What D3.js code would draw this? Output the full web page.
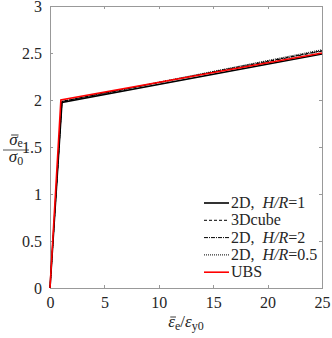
<!DOCTYPE html>
<meta charset="utf-8">
<script src="https://cdn.jsdelivr.net/npm/d3@7"></script>
<style>
  body { margin: 0; background: #fff; }
  .axis path, .axis line { stroke: #999; shape-rendering: crispEdges; }
</style>
<body>
<script>

// strain values (x) and stress values for each series
var xKink = [0, 1.1, 25];
var xUbs = [0, 1, 25];
var s2dHR1 = [0, 1.975, 2.49];
var s3dCube = [0, 1.985, 2.525];
var s2dHR2 = [0, 1.985, 2.52];
var s2dHR05 = [0, 1.985, 2.535];
var sUbs = [0, 2.0, 2.5];

var xTicks = [0, 5, 10, 15, 20, 25];
var yTicks = [0, 0.5, 1, 1.5, 2, 2.5, 3];

var series = [
  {name: "2D, ", it: "H/R", val: "=1", x: xKink, y: s2dHR1, color: "#000", width: 1.6, dash: null},
  {name: "3Dcube", it: "", val: "", x: xKink, y: s3dCube, color: "#000", width: 1, dash: "3,2"},
  {name: "2D, ", it: "H/R", val: "=2", x: xKink, y: s2dHR2, color: "#000", width: 1, dash: "4,1,1,1"},
  {name: "2D, ", it: "H/R", val: "=0.5", x: xKink, y: s2dHR05, color: "#000", width: 1, dash: "1,1"},
  {name: "UBS", it: "", val: "", x: xUbs, y: sUbs, color: "#ff0000", width: 1.6, dash: null}
];

var font = "Liberation Serif";
var ink = "#262626";

var width = 332, height = 338;
var margin = {left: 50, right: 10, top: 6, bottom: 50};
var w = width - margin.left - margin.right,
    h = height - margin.top - margin.bottom;

var svg = d3.select("body").append("svg")
    .attr("width", width)
    .attr("height", height);

var g = svg.append("g")
    .attr("transform", "translate(" + margin.left + "," + margin.top + ")");

var x = d3.scaleLinear().domain([0, 25]).range([0, w]);
var y = d3.scaleLinear().domain([0, 3]).range([h, 0]);

var fmt = d3.format("~g");

// axes, ticks inward (box on)
g.append("g").attr("class", "axis")
    .attr("transform", "translate(0," + h + ")")
    .call(d3.axisBottom(x).tickValues(xTicks).tickFormat(fmt).tickSizeInner(-3).tickSizeOuter(0).tickPadding(9));
g.append("g").attr("class", "axis")
    .call(d3.axisLeft(y).tickValues(yTicks).tickFormat(fmt).tickSizeInner(-3).tickSizeOuter(0).tickPadding(8));
g.append("g").attr("class", "axis")
    .call(d3.axisTop(x).tickValues(xTicks).tickSizeInner(-3).tickSizeOuter(0).tickFormat(""));
g.append("g").attr("class", "axis")
    .attr("transform", "translate(" + w + ",0)")
    .call(d3.axisRight(y).tickValues(yTicks).tickSizeInner(-3).tickSizeOuter(0).tickFormat(""));

g.selectAll(".axis text")
    .style("font-family", font)
    .style("font-size", "16px")
    .style("fill", ink);

var line = d3.line()
    .x(function(d) { return x(d[0]); })
    .y(function(d) { return y(d[1]); });

// draw dashed ones first, then solid black and red on top
var order = [1, 2, 3, 0, 4];
order.forEach(function(i) {
  var s = series[i];
  g.append("path")
      .datum(d3.zip(s.x, s.y))
      .attr("d", line)
      .attr("fill", "none")
      .attr("stroke", s.color)
      .attr("stroke-width", s.width)
      .attr("stroke-dasharray", s.dash);
});

// legend
var legend = g.append("g").attr("transform", "translate(154,197)");
series.forEach(function(s, i) {
  var row = legend.append("g").attr("transform", "translate(0," + (i * 17.3) + ")");
  row.append("line")
      .attr("x1", 0).attr("x2", 25)
      .attr("stroke", s.color)
      .attr("stroke-width", s.width)
      .attr("stroke-dasharray", s.dash);
  var t = row.append("text").attr("x", 27).attr("y", 5)
      .style("font-family", font).style("font-size", "16px").style("fill", ink);
  t.append("tspan").text(s.name);
  if (s.it) {
    t.append("tspan").attr("dx", 4).style("font-style", "italic").text(s.it);
    t.append("tspan").text(s.val);
  }
});

// write a math label: parts are [text, italic, sub, bar]
function mathLabel(sel, parts, subDy) {
  var t = sel.append("text")
      .style("font-family", font).style("font-size", "17px").style("fill", ink);
  var spans = [];
  parts.forEach(function(p) {
    var sp = t.append("tspan").text(p[0]);
    if (p[1]) sp.style("font-style", "italic");
    if (p[2]) sp.attr("dy", subDy).style("font-size", "12px");
    else if (spans.length && parts[spans.length - 1][2]) sp.attr("dy", -subDy);
    spans.push(sp);
  });
  return {text: t, spans: spans};
}

function addBars(sel, lab, parts) {
  parts.forEach(function(p, i) {
    if (!p[3]) return;
    var node = lab.text.node();
    var start = 0;
    for (var k = 0; k < i; k++) start += parts[k][0].length;
    var ext = node.getExtentOfChar(start);
    sel.append("line")
        .attr("x1", ext.x + 2).attr("x2", ext.x + ext.width + 1)
        .attr("y1", ext.y + 5).attr("y2", ext.y + 5)
        .attr("stroke", ink).attr("stroke-width", 0.9);
  });
}

// y label as a fraction
var yl = svg.append("g").attr("transform", "translate(16,150)");
var numParts = [["σ", true, false, true], ["e", false, true, false]];
var num = mathLabel(yl, numParts, 2);
num.text.attr("text-anchor", "middle").attr("x", 0).attr("y", -5);
addBars(yl, num, numParts);
yl.append("line").attr("x1", -13).attr("x2", 13)
    .attr("stroke", ink).attr("stroke-width", 0.8);
var denParts = [["σ", true, false, false], ["0", false, true, false]];
var den = mathLabel(yl, denParts, 3);
den.text.attr("text-anchor", "middle").attr("x", 0).attr("y", 12);

// x label
var xl = svg.append("g").attr("transform", "translate(" + (margin.left + w / 2) + ",327)");
var xParts = [["ε", true, false, true], ["e", false, true, false], ["/", false, false, false],
              ["ε", true, false, false], ["y0", false, true, false]];
var xlab = mathLabel(xl, xParts, 3);
xlab.text.attr("text-anchor", "middle");
addBars(xl, xlab, xParts);

</script>
</body>
